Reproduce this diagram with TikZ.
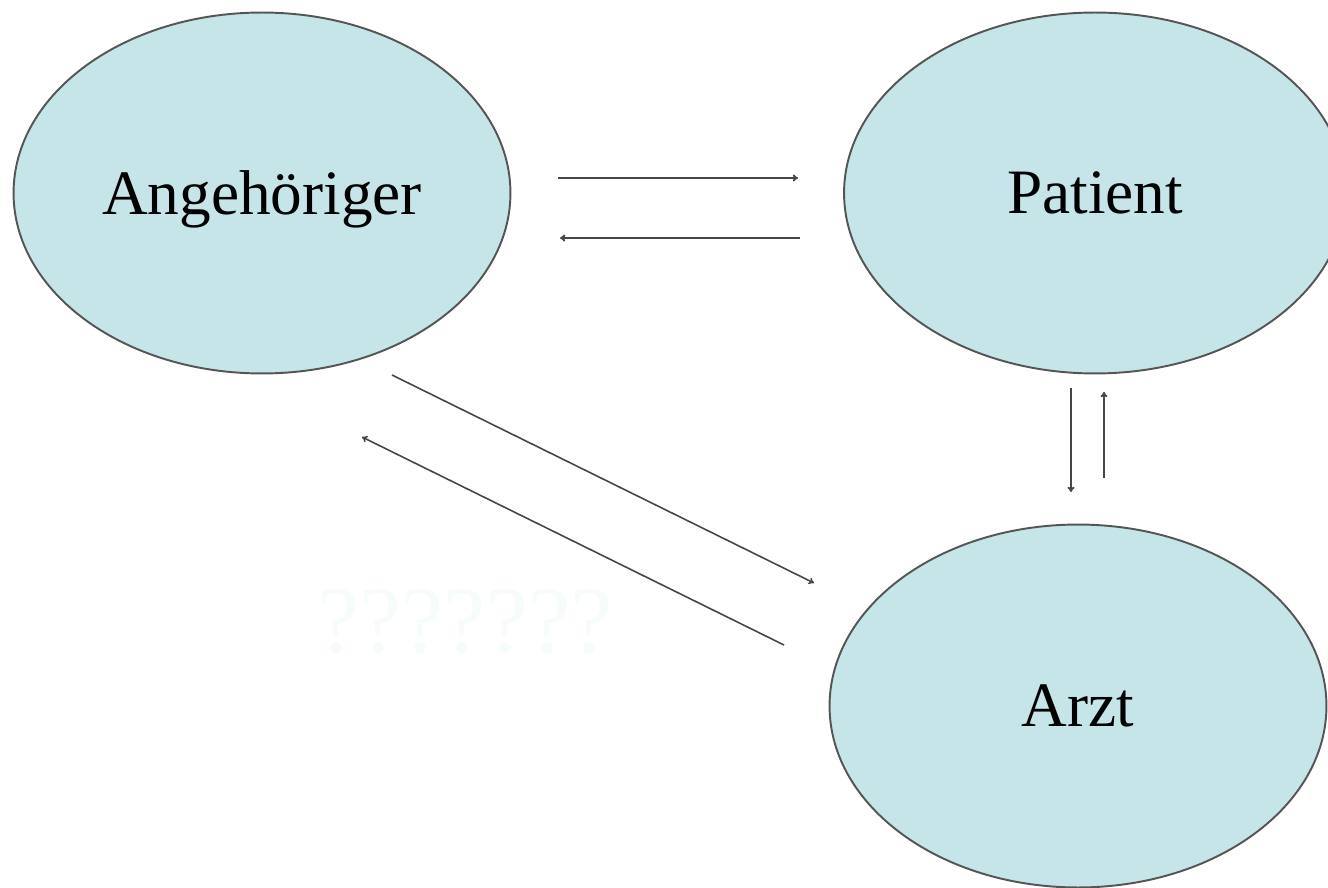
\documentclass[tikz,border=0pt]{standalone}
\usepackage{fontspec}
\setmainfont{Liberation Serif}
\usetikzlibrary{shapes.geometric,arrows.meta}
\definecolor{bubble}{RGB}{198,229,232}
\definecolor{rim}{RGB}{85,85,85}
\definecolor{wire}{RGB}{70,70,70}
\definecolor{ghost}{RGB}{246,252,252}
\tikzset{
  bubble/.style={ellipse, draw=rim, line width=1.1pt, fill=bubble, inner sep=0pt,
    text depth=0pt, font=\fontsize{36}{40}\selectfont},
  wire/.style={draw=wire, line width=1.1pt, -{To[length=3pt,width=4pt]}},
  thinwire/.style={draw=wire, line width=0.9pt, -{To[length=3pt,width=4pt]}}
}
\begin{document}
\begin{tikzpicture}[x=0.02cm,y=-0.02cm]
\useasboundingbox (0,0) rectangle (1328,888);
\clip (0,0) rectangle (1328,888);
\fill[white] (0,0) rectangle (1328,888);
\node[bubble, minimum width=9.94cm, minimum height=7.22cm] (ang) at (262,193) {Angehöriger};
\node[bubble, minimum width=10.04cm, minimum height=7.22cm] (pat) at (1095,193) {Patient};
\node[bubble, minimum width=9.94cm, minimum height=7.26cm] (arzt) at (1078,706) {Arzt};
\node[text=ghost, font=\fontsize{54}{60}\selectfont] (q) at (465,622) {???????};
% connector end points
\coordinate (h1s) at (558,178); \coordinate (h1e) at (798,178);
\coordinate (h2s) at (800,238); \coordinate (h2e) at (560,238);
\coordinate (v1s) at (1071,388); \coordinate (v1e) at (1071,492);
\coordinate (v2s) at (1104,478); \coordinate (v2e) at (1104,392);
\coordinate (d1s) at (392,375); \coordinate (d1e) at (814,583);
\coordinate (d2s) at (784,645); \coordinate (d2e) at (362,437);
\draw[wire] (h1s) -- (h1e);
\draw[wire] (h2s) -- (h2e);
\draw[wire] (v1s) -- (v1e);
\draw[wire] (v2s) -- (v2e);
\draw[thinwire] (d1s) -- (d1e);
\draw[thinwire] (d2s) -- (d2e);
\end{tikzpicture}
\end{document}
